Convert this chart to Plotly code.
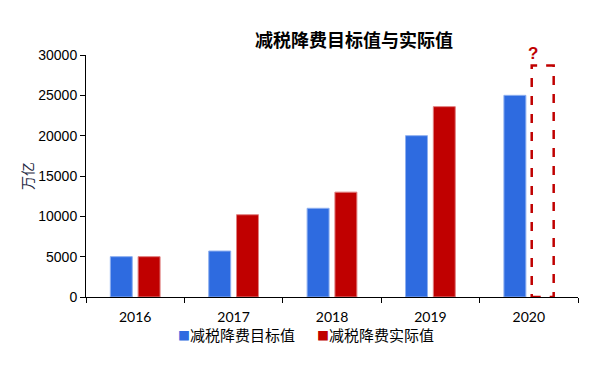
import plotly.graph_objects as go

years = ["2016", "2017", "2018", "2019", "2020"]
target = [5000, 5700, 11000, 20000, 25000]
actual = [5000, 10200, 13000, 23600, None]
estimate_2020 = 28700
title = "减税降费目标值与实际值"
y_title = "万亿"
name_target = "减税降费目标值"
name_actual = "减税降费实际值"

blue = "#2E6BE0"
red = "#C00000"
bargap = 0.435
bargroupgap = 0.21

# page body has an 8px offset; figure sized to compensate
W, H = 601, 358
ML, MR, MT, MB = 78, 31, 47, 69
PW, PH = W - ML - MR, H - MT - MB

fig = go.Figure()
fig.add_trace(go.Bar(x=years, y=target, name=name_target, showlegend=False,
                     marker=dict(color=blue, line=dict(color="#8FB0F0", width=1))))
fig.add_trace(go.Bar(x=years, y=actual, name=name_actual, showlegend=False,
                     marker=dict(color=red, line=dict(color="#E08080", width=1))))

# dashed outline for the unknown 2020 actual value, positioned where the red bar would be
slot = (1 - bargap) / 2
center = 4 + slot / 2
half_w = slot * (1 - bargroupgap) / 2
x0, x1 = center - half_w, center + half_w
fig.add_shape(type="rect", xref="x", yref="y", x0=x0, x1=x1, y0=0, y1=estimate_2020,
              line=dict(color=red, width=2.5, dash="dash"), fillcolor="rgba(0,0,0,0)")
fig.add_annotation(x=x0 + 0.01, y=estimate_2020, xref="x", yref="y", text="<b>?</b>",
                   showarrow=False, yanchor="bottom", yshift=0,
                   font=dict(color=red, size=17, family="Liberation Sans"))

# legend drawn as text
legend_font = dict(family="Noto Sans CJK SC", size=15, color="black")
for xpos, color, name in [(176, blue, name_target), (315, red, name_actual)]:
    fig.add_annotation(x=(xpos - 8 - ML) / PW, y=(297 - 334) / PH, xref="paper", yref="paper",
                       xanchor="left", yanchor="middle", showarrow=False,
                       text=f"<span style='color:{color};font-size:12px'>■</span>{name}",
                       font=legend_font)

fig.update_layout(
    width=W, height=H,
    paper_bgcolor="white", plot_bgcolor="white",
    margin=dict(l=ML, r=MR, t=MT, b=MB),
    barmode="group", bargap=bargap, bargroupgap=bargroupgap,
    title=dict(text="<b>" + title + "</b>", x=(354 - 8) / W, xanchor="center",
               y=1 - (41 - 8) / H, yanchor="middle",
               font=dict(family="Noto Sans CJK SC", size=18, color="black")),
    showlegend=False,
)
fig.update_xaxes(type="category", tickson="boundaries", ticks="outside", ticklen=5,
                 tickcolor="black", showline=True, linecolor="black", linewidth=1,
                 tickfont=dict(family="Lato", size=14, color="black"), showgrid=False,
                 ticklabelstandoff=7,
                 range=[-0.5, 4.5], automargin=False)
fig.update_yaxes(range=[0, 30000], dtick=5000, tickformat="d", ticks="outside", ticklen=5,
                 tickcolor="black", automargin=False,
                 showline=True, linecolor="black", linewidth=1, showgrid=False, zeroline=False,
                 tickfont=dict(family="Liberation Sans", size=14, color="black"),
                 title=dict(text=y_title, standoff=1,
                            font=dict(family="Noto Sans CJK SC", size=14, color="#1F2A44")))

fig.write_html("out.html")
